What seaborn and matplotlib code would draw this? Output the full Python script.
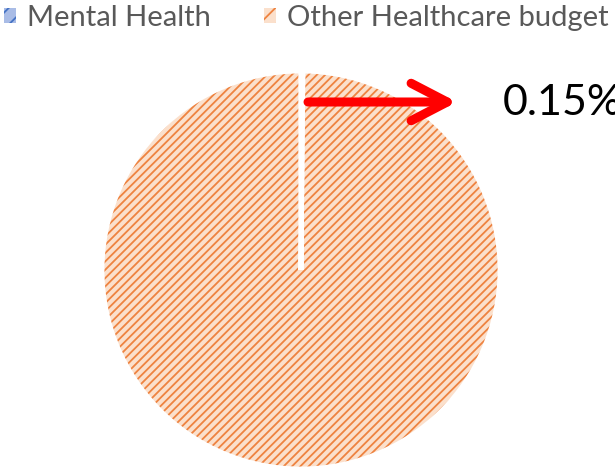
import matplotlib
matplotlib.use("Agg")
import matplotlib.pyplot as plt
import seaborn as sns
from matplotlib.patches import Patch, ArrowStyle

categories = ["Mental Health", "Other Healthcare budget"]
values = [0.15, 99.85]
label_text = "0.15%"

sns.set_theme(style="white")
plt.rcParams["font.family"] = ["Lato", "DejaVu Sans"]
plt.rcParams["hatch.linewidth"] = 1.3

face_colors = ["#A9BCE6", "#FBE0CC"]
hatch_colors = ["#4472C4", "#EE8340"]

W, H = 615, 474
fig = plt.figure(figsize=(W / 100, H / 100), dpi=100)
cx, cy, r = 301, 270, 199
ax = fig.add_axes([(cx - r) / W, (H - cy - r) / H, 2 * r / W, 2 * r / H])

# base fill
ax.pie(values, startangle=90, counterclock=False, colors=face_colors,
       wedgeprops=dict(linewidth=0, edgecolor="none"))
# hatch layer
wedges, _ = ax.pie(values, startangle=90, counterclock=False,
                   wedgeprops=dict(linewidth=0, facecolor="none"))
for w, hc in zip(wedges, hatch_colors):
    w.set_edgecolor(hc)
    w.set_hatch("////")
    w.set_linewidth(0)
# white slice borders
ax.pie(values, startangle=90, counterclock=False,
       wedgeprops=dict(linewidth=3.5, edgecolor="white", facecolor="none"))
ax.set_xlim(-1, 1)
ax.set_ylim(-1, 1)
ax.set_aspect("equal")
ax.axis("off")

handles = [Patch(facecolor=fc, edgecolor=hc, hatch="//", linewidth=0)
           for fc, hc in zip(face_colors, hatch_colors)]
fig.legend(handles, categories, loc="upper left", bbox_to_anchor=(4 / W, 1 - 5 / H),
           ncol=2, frameon=False, fontsize=21, handlelength=0.42, handleheight=0.42,
           handletextpad=0.38, columnspacing=1.8, borderpad=0, borderaxespad=0,
           labelcolor="#595959")

ax.annotate("", xy=(457, H - 102), xytext=(308, H - 102),
            xycoords="figure pixels", textcoords="figure pixels",
            arrowprops=dict(arrowstyle=ArrowStyle("->", head_length=2.6, head_width=1.35),
                            mutation_scale=10, color="#FF0000", lw=6.5,
                            shrinkA=0, shrinkB=0, capstyle="round", joinstyle="round"),
            annotation_clip=False)
fig.text(503 / W, 1 - 103 / H, label_text, fontsize=31, color="black",
         ha="left", va="center")

fig.savefig("out.png", dpi=100)
